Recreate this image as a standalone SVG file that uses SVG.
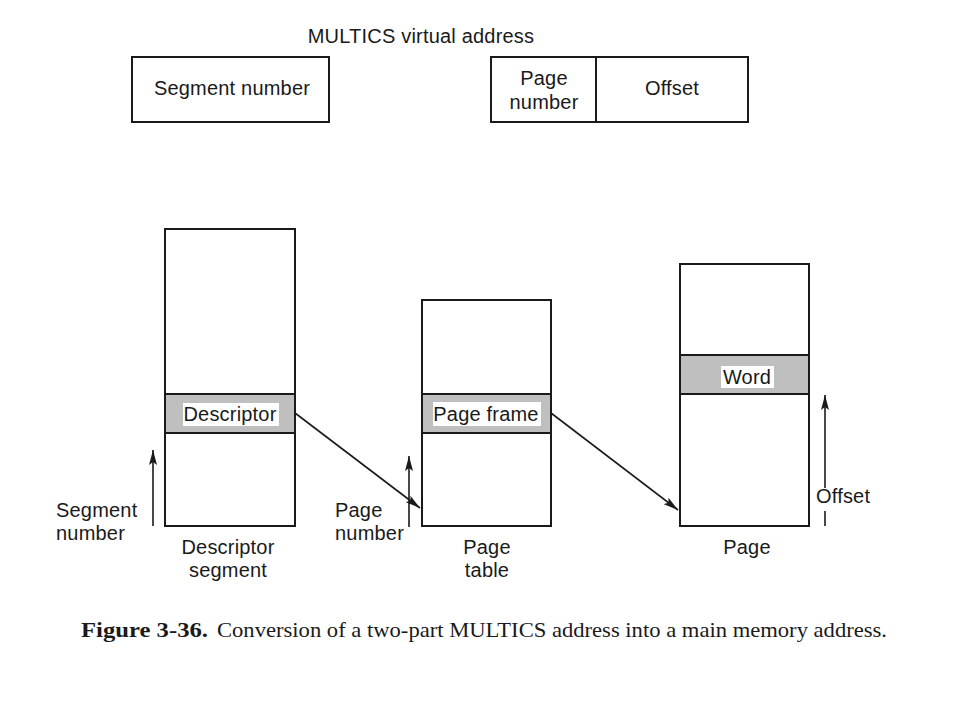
<svg xmlns="http://www.w3.org/2000/svg" width="958" height="716" viewBox="0 0 958 716">
<style>
.box{fill:#fff;stroke:#1a1a1a;stroke-width:2}
.band{fill:#bfbfbf;stroke:#1a1a1a;stroke-width:2}
.lbl{fill:#fff}
text{font-family:"Liberation Sans",Arial,sans-serif;font-size:20px;letter-spacing:0.2px;fill:#1a1a1a}
.c{text-anchor:middle}
.cap{font-family:"Liberation Serif","Times New Roman",serif;font-size:22px;letter-spacing:0}
.conn{stroke:#1a1a1a;stroke-width:1.6;fill:none}
</style>
<defs>
<marker id="ah" markerUnits="userSpaceOnUse" markerWidth="16" markerHeight="8" refX="15" refY="4" orient="auto">
<path d="M0,0 L15,4 L0,8 L3,4 z" fill="#1a1a1a"/>
</marker>
</defs>
<rect width="958" height="716" fill="#fff"/>
<g id="title"><text x="421" y="43" class="c">MULTICS virtual address</text></g>
<g id="seg-number-field">
<rect x="132" y="57" width="197" height="65" class="box"/>
<text x="232" y="95" class="c">Segment number</text>
</g>
<g id="page-offset-field">
<rect x="491" y="57" width="257" height="65" class="box"/>
<line x1="596" y1="57" x2="596" y2="122" stroke="#1a1a1a" stroke-width="2"/>
<text x="544" y="85" class="c">Page</text>
<text x="544" y="109" class="c">number</text>
<text x="672" y="95" class="c">Offset</text>
</g>
<g id="descriptor-segment">
<rect x="165" y="229" width="130" height="297" class="box"/>
<rect x="165" y="394" width="130" height="39" class="band"/>
<rect x="183" y="403" width="96" height="23" class="lbl"/>
<text x="230" y="421" class="c">Descriptor</text>
<text x="228" y="554" class="c">Descriptor</text>
<text x="228" y="577" class="c">segment</text>
</g>
<g id="page-table">
<rect x="422" y="300" width="129" height="226" class="box"/>
<rect x="422" y="394" width="129" height="39" class="band"/>
<rect x="433" y="402" width="108" height="24" class="lbl"/>
<text x="486" y="421" class="c">Page frame</text>
<text x="487" y="554" class="c">Page</text>
<text x="487" y="577" class="c">table</text>
</g>
<g id="page">
<rect x="680" y="264" width="129" height="262" class="box"/>
<rect x="680" y="355" width="129" height="39" class="band"/>
<rect x="721" y="366" width="53" height="22" class="lbl"/>
<text x="747" y="384" class="c">Word</text>
<text x="747" y="554" class="c">Page</text>
</g>
<g id="side-labels">
<text x="56" y="517">Segment</text>
<text x="56" y="540">number</text>
<text x="335" y="517">Page</text>
<text x="335" y="540">number</text>
<text x="816" y="503">Offset</text>
</g>
<g id="connectors">
<line x1="153" y1="526" x2="153" y2="450" class="conn" marker-end="url(#ah)"/>
<line x1="409" y1="527" x2="409" y2="456" class="conn" marker-end="url(#ah)"/>
<line x1="295" y1="413" x2="420" y2="508" class="conn" marker-end="url(#ah)"/>
<line x1="551" y1="413" x2="678" y2="510" class="conn" marker-end="url(#ah)"/>
<line x1="825" y1="488" x2="825" y2="395" class="conn" marker-end="url(#ah)"/>
<line x1="825" y1="526" x2="825" y2="511" class="conn"/>
</g>
<g id="caption">
<text x="81" y="637" class="cap" font-weight="bold" textLength="127" lengthAdjust="spacingAndGlyphs">Figure 3-36.</text>
<text x="217" y="637" class="cap" textLength="670" lengthAdjust="spacingAndGlyphs">Conversion of a two-part MULTICS address into a main memory address.</text>
</g>
</svg>
